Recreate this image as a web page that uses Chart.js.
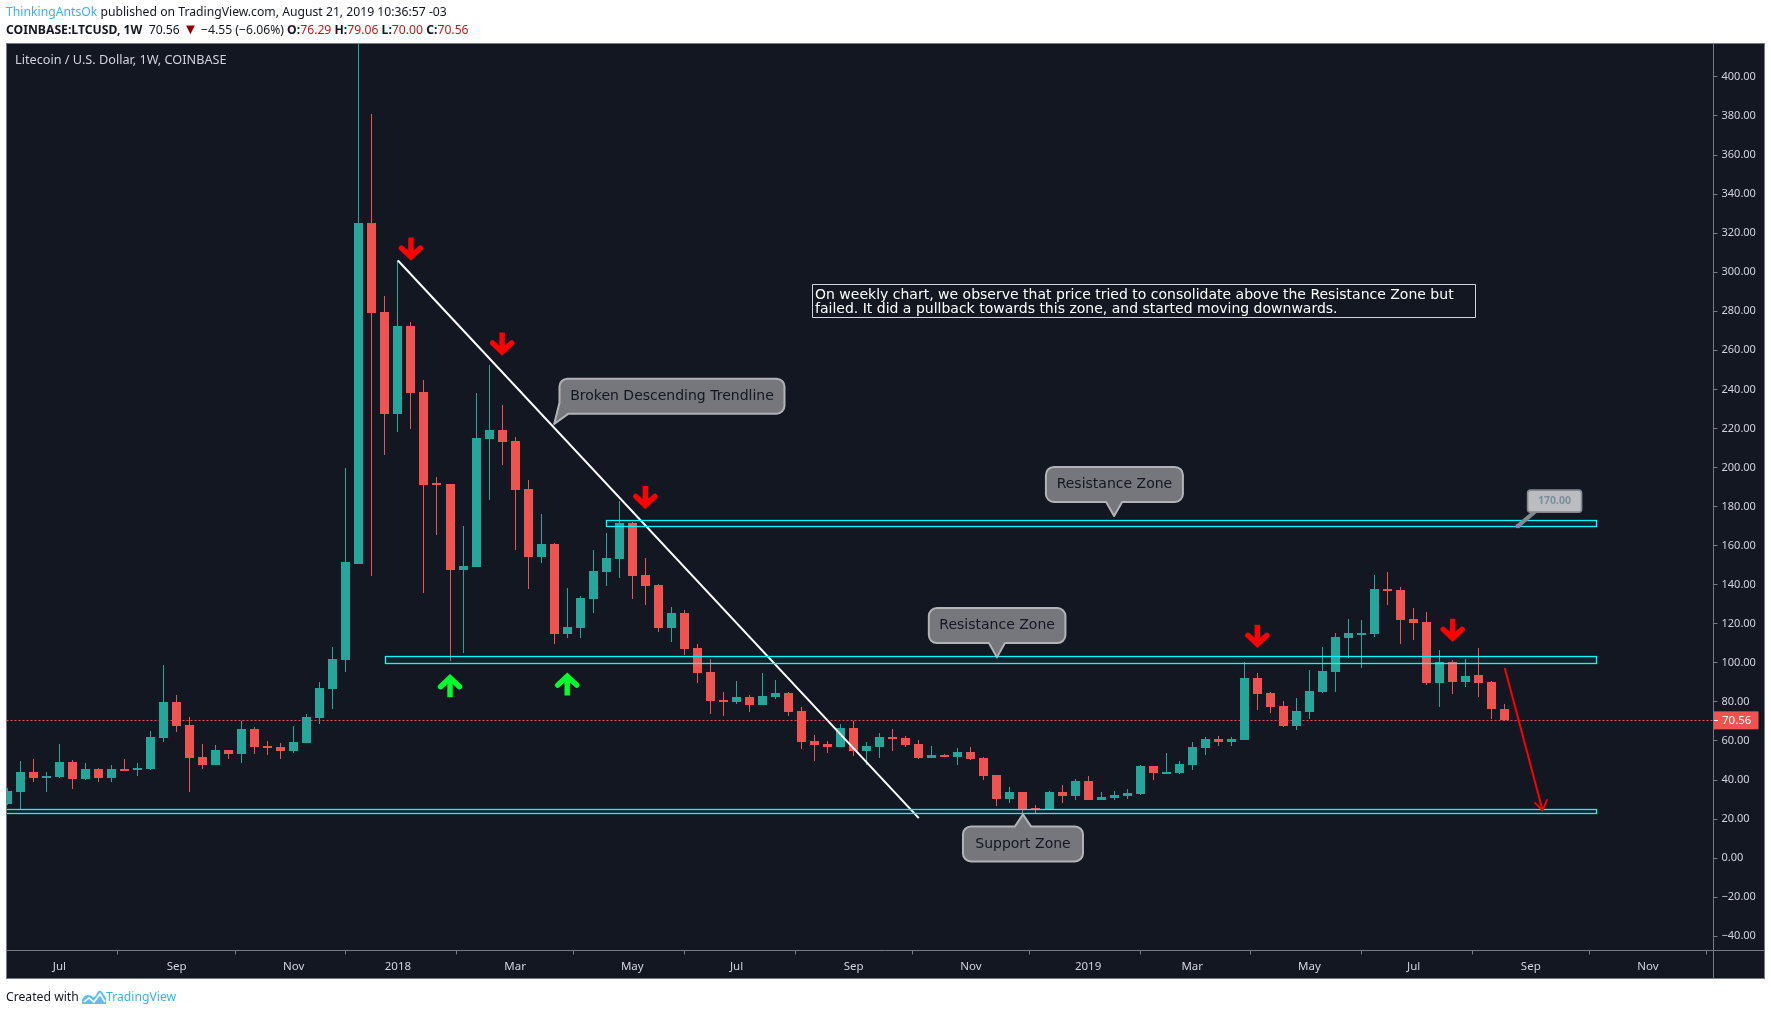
<!DOCTYPE html>
<html><head><meta charset="utf-8">
<script src="https://cdn.jsdelivr.net/npm/chart.js@4/dist/chart.umd.min.js"></script>
<style>
html,body{margin:0;padding:0;background:#fff;width:1771px;height:1015px;overflow:hidden}
canvas{position:absolute;left:0;top:0}
.t{position:absolute;left:6px;font-family:"Noto Sans",sans-serif;font-size:12.2px;white-space:pre;color:#131722;line-height:16px}
.b{font-weight:700}.r{color:#b71c1c}.l{color:#3bb3e4}
</style></head><body>
<canvas id="c" width="1771" height="1015"></canvas>
<div class="t" style="top:4px"><span class="l">ThinkingAntsOk</span> published on TradingView.com, August 21, 2019 10:36:57 -03</div>
<div class="t" style="top:21px"><span class="b">COINBASE:LTCUSD, 1W</span>  70.56 <span class="r" style="color:#8b0000;font-size:15px;line-height:14px">▼</span> −4.55 (−6.06%) <span class="b">O:</span><span class="r">76.29</span> <span class="b">H:</span><span class="r">79.06</span> <span class="b">L:</span><span class="r">70.00</span> <span class="b">C:</span><span class="r">70.56</span></div>
<div class="t" style="top:989px">Created with</div>
<svg style="position:absolute;left:82px;top:989px" width="24" height="16" viewBox="0 0 24 16"><path d="M0 15 L0 11 Q2 6 6 6 Q9 6 11 8 Q13 9 15 4 Q17 0 20 3 L24 9 L24 15 Z" fill="#5fc0ec"/><path d="M2 13 L7 9 L12 13 L18 5 L23 13" fill="none" stroke="#fff" stroke-width="1.6"/></svg>
<div class="t l" style="top:989px;left:106px">TradingView</div>
<script>
const open=[27.5,33.7,43.9,40.8,41.4,49,40.3,45.5,40.8,45.5,
45,45.5,61.4,79.8,68,51.6,47.5,55.2,53.1,66,
57.3,56.7,54.7,58.8,71.6,86.5,101.4,150.6,325.4,279.8,
227.6,272.6,238.8,192.2,191.7,147.5,149.1,214.7,219.3,213.7,
189.1,154.2,160.9,114.7,117.8,132.7,146.5,153.2,171.6,145,
139.8,117.8,125.5,107.5,95.2,80.9,79.8,82.4,78.3,82.4,
84.5,75.2,59.8,58.3,56.8,66.5,54.7,56.8,61.9,61.4,
58.3,51.1,52.6,51.6,54.2,51.1,42.4,30.1,33.7,25.5,
25,33.7,31.7,39.3,29.6,30.6,31.7,32.7,47,43.4,
43.4,47.5,56.2,60.9,59.3,60.3,92.2,84.5,77.8,67.5,
74.7,85,95.2,112.7,114.7,114.7,137.8,137.3,122.4,120.9,
89.6,100.4,90.1,93.7,90.1,76.29];
const close=[34.2,43.9,40.8,41.9,49,40.3,45.5,40.8,45.5,45,
46,61.9,79.8,67.5,51.1,47.5,55.2,53.1,66,56.7,
56.2,54.7,59.3,72.1,87,101.9,151.6,325.4,279.3,227.6,
272.6,238.3,191.1,191.1,147.5,149.6,215.2,219.3,213.2,188.6,
154.2,160.9,114.7,118.3,133.2,147,153.7,171.6,144.4,139.3,
117.8,125.5,107,94.7,80.4,79.8,82.4,78.3,82.9,84.5,
74.7,59.3,57.8,56.8,66.5,54.7,57.3,61.9,60.9,57.8,
51.1,52.6,51.6,54.2,50.6,41.9,30.1,33.7,25,25,
33.7,31.7,39.3,29.6,31.1,32.2,33.2,47,43.4,44,
48,56.8,60.9,59.3,60.9,92.2,83.9,77.3,67.5,75.2,
85.5,95.7,113.2,115.2,115.2,137.8,136.8,121.9,120.4,89.6,
100.4,90.1,93.2,89.6,76.2,70.56];
const high=[35.7,49.6,50.6,43.9,58.3,50.1,48.5,46,47.5,50.6,
48.5,64.9,98.8,83.4,72.1,58.3,57.8,55.2,70.1,67,
59.8,58.8,67.5,73.7,90.1,108,199.9,425,380.8,288,
306,274.7,245,195.2,191.7,170.1,238.3,252.7,232.2,215.8,
193.7,176.3,161.4,138.3,134.2,157.8,166.5,182.9,172.1,153.7,
140.4,128.6,127,109.6,101.9,85,90.6,83.4,94.7,91.1,
85,77.3,62.9,59.8,68.6,70.1,59.3,63.9,66,62.4,
60.4,57.3,53.2,56.2,56.8,51.6,42.4,36.3,33.7,27,
34.2,37.3,40.4,41.9,33.7,34.2,35.2,47.5,47,53.7,
49.6,59.3,61.9,62.4,61.9,100.4,94.7,85,80.4,81.9,
96.2,108,115.2,122.4,121.9,145,146.5,138.8,128,126,
106.5,101.4,101.9,107.5,90.6,79.06];
const low=[27,25.3,38.8,33.7,40.8,35.2,39.8,38.8,38.8,44.4,
41.9,45,59.3,64.4,33.7,45.5,47.5,50.6,48.5,53.1,
52.6,50.6,53.7,58.8,68.5,76.2,95.2,150.6,144.5,206.5,
218.3,219.9,135.8,165.5,100.9,105,149.1,183.4,201.4,157.8,
137.8,151.1,109.6,112.7,112.7,125.5,139.3,143.4,132.7,129.6,
115.7,110.6,103.9,89.6,73.7,72.7,78.8,74.7,78.3,81.4,
72.7,55.7,49.6,53.7,56.8,52.1,47.5,51.1,54.7,56.8,
50.6,51.1,51.6,47.5,50.1,39.9,26.5,28,22.4,22.4,
25,28,29.6,29.6,29.6,29.6,30.1,32.2,39.9,42.9,
42.9,45,52.7,57.3,57.3,60.3,75.7,74.2,67,65.5,
71.1,84.5,85,102.4,97.3,113.2,129.6,109.6,111.6,88.6,
77.3,83.9,87.5,82.4,71,70];
const tickWeeks=[4,13,22,30,39,48,56,65,74,83,91,100,108,117,126];
const tickLabels=["Jul","Sep","Nov","2018","Mar","May","Jul","Sep","Nov","2019","Mar","May","Jul","Sep","Nov"];
const priceTicks=[-40,-20,0,20,40,60,80,100,120,140,160,180,200,220,240,260,280,300,320,340,360,380,400];
const lastPrice=70.56;
const trendWeeks=[30,70], trendPrices=[306,20.5];
const forecastWeeks=[115,117.9], forecastPrices=[97.4,24.5];
const zoneStart=[46,29,-1], zoneEnd=[122,122,122], zoneTop=[173,103.3,25.3], zoneBottom=[170.2,100,23.1];
const downWeeks=[31,38,49,96,111], downPrices=[306,257.4,178.8,107.7,110.8];
const upWeeks=[34,43], upPrices=[94.2,95];
const noteLines=["On weekly chart, we observe that price tried to consolidate above the Resistance Zone but","failed. It did a pullback towards this zone, and started moving downwards."];

const UP='#26a69a',DOWN='#ef5350',BG='#131722',LINE='#787b86',TXT='#d1d4dc';
const weeks=open.map((_,i)=>i);
const col=c=>close[c.dataIndex]>=open[c.dataIndex]?UP:DOWN;

function roundRectPath(ctx,x0,y0,x1,y1,r,side,tip,a,b){
  ctx.beginPath();ctx.moveTo(x0+r,y0);
  if(side==='top'){ctx.lineTo(a,y0);ctx.lineTo(tip[0],tip[1]);ctx.lineTo(b,y0);}
  ctx.arcTo(x1,y0,x1,y1,r);ctx.arcTo(x1,y1,x0,y1,r);
  if(side==='bottom'){ctx.lineTo(b,y1);ctx.lineTo(tip[0],tip[1]);ctx.lineTo(a,y1);}
  if(side==='corner'){ctx.lineTo(b,y1);ctx.lineTo(tip[0],tip[1]);ctx.lineTo(x0,a);}
  else ctx.arcTo(x0,y1,x0,y0,r);
  ctx.arcTo(x0,y0,x1,y0,r);ctx.closePath();
}
function bubble(ctx,sx,sy,week,price,dx0,dx1,dy0,dy1,side,text){
  const tx=sx.getPixelForValue(week),ty=sy.getPixelForValue(price);
  const x0=tx+dx0,x1=tx+dx1,y0=ty+dy0,y1=ty+dy1;
  let a=tx-8,b=tx+8;
  if(side==='corner'){a=y1-11;b=x0+9;}
  roundRectPath(ctx,x0,y0,x1,y1,8,side,[tx,ty],a,b);
  ctx.fillStyle='#76777c';ctx.fill();
  ctx.strokeStyle='#b2b3b6';ctx.lineWidth=2;ctx.lineJoin='round';ctx.stroke();
  ctx.fillStyle='#131722';ctx.font='14px "DejaVu Sans"';ctx.textAlign='center';ctx.textBaseline='middle';
  ctx.fillText(text,(x0+x1)/2,(y0+y1)/2);
}
function fatArrow(ctx,x,y,dir,color){
  ctx.strokeStyle=color;ctx.lineWidth=5.4;ctx.lineCap='butt';ctx.lineJoin='miter';
  ctx.beginPath();ctx.moveTo(x,y-dir*3);ctx.lineTo(x,y-dir*23);ctx.stroke();
  ctx.lineCap='round';
  ctx.beginPath();ctx.moveTo(x-9.5,y-dir*12.5);ctx.lineTo(x,y-dir*3.5);ctx.lineTo(x+9.5,y-dir*12.5);ctx.stroke();
}
const decor={id:'decor',
 beforeDraw(ch){const c=ch.ctx,a=ch.chartArea;
  c.save();c.fillStyle=BG;c.fillRect(6.5,43.5,1758,935);c.restore();},
 beforeDatasetsDraw(ch){
  ch.data.datasets.forEach((d,k)=>{ if(d.type!=='bar')return;
   ch.getDatasetMeta(k).data.forEach(el=>{
    el.x=Math.floor(el.x)+.5;
    let t=Math.round(Math.min(el.y,el.base)),b=Math.round(Math.max(el.y,el.base));
    if(b-t<1)b=t+1; if(el.width>2&&b-t<2)b=t+2; el.y=t;el.base=b;});});
  const c=ch.ctx,a=ch.chartArea,sy=ch.scales.y,y=Math.round(sy.getPixelForValue(lastPrice))+.5;
  c.save();c.strokeStyle=DOWN;c.lineWidth=1;c.setLineDash([2,2]);
  c.beginPath();c.moveTo(a.left,y);c.lineTo(a.right,y);c.stroke();c.restore();
 },
 afterDatasetsDraw(ch){
  const c=ch.ctx,a=ch.chartArea,sx=ch.scales.x,sy=ch.scales.y;
  c.save();c.beginPath();c.rect(a.left,a.top,a.width,a.height);c.clip();
  zoneTop.forEach((_,i)=>{
   const x0=Math.round(sx.getPixelForValue(zoneStart[i]))+.5,x1=Math.round(sx.getPixelForValue(zoneEnd[i]))+.5,
    y0=Math.round(sy.getPixelForValue(zoneTop[i]))+.5,y1=Math.round(sy.getPixelForValue(zoneBottom[i]))+.5;
   c.fillStyle='rgba(0,255,255,0.05)';c.fillRect(x0,y0,x1-x0,y1-y0);
   c.strokeStyle='#00ffff';c.lineWidth=1.3;c.strokeRect(x0,y0,x1-x0,y1-y0);
  });
  const tx=sx.getPixelForValue(forecastWeeks[1]),ty=sy.getPixelForValue(forecastPrices[1]);
  c.strokeStyle='#ff0000';c.lineWidth=1.8;c.lineCap='round';
  c.beginPath();c.moveTo(tx-7.5,ty-7.5);c.lineTo(tx,ty);c.lineTo(tx+4.5,ty-10.5);c.stroke();
  downWeeks.forEach((w,i)=>fatArrow(c,sx.getPixelForValue(w),sy.getPixelForValue(downPrices[i]),1,'#ff0000'));
  upWeeks.forEach((w,i)=>fatArrow(c,sx.getPixelForValue(w),sy.getPixelForValue(upPrices[i]),-1,'#00ff2a'));
  c.restore();
  c.save();
  bubble(c,sx,sy,42,222.3,5.3,230.3,-45.3,-10.3,'corner','Broken Descending Trendline');
  bubble(c,sx,sy,85,175.2,-68.2,68.8,-49,-14,'bottom','Resistance Zone');
  bubble(c,sx,sy,76,102.8,-68.1,68.5,-49.3,-14.3,'bottom','Resistance Zone');
  bubble(c,sx,sy,78,22.4,-60,60,12,47,'top','Support Zone');
  const px=sx.getPixelForValue(116),py=sy.getPixelForValue(170);
  c.strokeStyle='#868890';c.lineWidth=4;c.lineCap='butt';c.beginPath();c.moveTo(px,py);c.lineTo(px+19,py-16);c.stroke();
  c.fillStyle='#868890';c.fillRect(px-2,py-2,4,4);
  c.beginPath();c.roundRect(px+9.8,py-36,54,22,3);c.fillStyle='#bcbdc1';c.fill();c.strokeStyle='#868890';c.lineWidth=1.6;c.stroke();
  c.fillStyle='#78909c';c.font='bold 10.5px "Noto Sans"';c.textAlign='center';c.textBaseline='middle';c.fillText('170.00',px+36.8,py-25);
  const nx=812.5,ny=284.5;
  c.fillStyle=BG;c.fillRect(nx,ny,663,33);c.strokeStyle='#d1d4dc';c.lineWidth=1;c.strokeRect(nx,ny,663,33);
  c.fillStyle='#ffffff';c.font='14px "DejaVu Sans"';c.textAlign='left';c.textBaseline='middle';
  noteLines.forEach((t,i)=>c.fillText(t,nx+2.5,ny+10.5+i*14));
  c.fillStyle=TXT;c.font='12.7px "Noto Sans"';c.fillText('Litecoin / U.S. Dollar, 1W, COINBASE',15,60.5);
  c.restore();
 },
 afterDraw(ch){const c=ch.ctx,a=ch.chartArea,sy=ch.scales.y;
  c.save();
  c.strokeStyle=LINE;c.lineWidth=1;
  c.strokeRect(6.5,43.5,1758,935);
  c.beginPath();c.moveTo(6.5,950.5);c.lineTo(1764.5,950.5);c.moveTo(1713.5,43.5);c.lineTo(1713.5,978.5);c.stroke();
  const y=sy.getPixelForValue(lastPrice);
  c.fillStyle=DOWN;c.fillRect(1714,y-9,44.5,18);
  c.fillStyle='#fff';c.fillRect(1714,Math.round(y),4,1);
  c.font='11.5px "Noto Sans"';c.textAlign='left';c.textBaseline='middle';c.fillText('70.56',1722,y+.5);
  c.restore();
 }
};
new Chart(document.getElementById('c'),{
 data:{datasets:[
  {type:'line',label:'Trendline',data:trendWeeks.map((w,i)=>({x:w,y:trendPrices[i]})),borderColor:'#ffffff',borderWidth:2,pointRadius:0,order:-2},
  {type:'line',label:'Forecast',data:forecastWeeks.map((w,i)=>({x:w,y:forecastPrices[i]})),borderColor:'#ff0000',borderWidth:2,pointRadius:0,order:-2},
  {type:'bar',label:'High-Low',data:weeks.map(i=>({x:i,y:[low[i],high[i]]})),backgroundColor:col,barThickness:1,grouped:false,inflateAmount:0,order:2},
  {type:'bar',label:'Open-Close',data:weeks.map(i=>({x:i,y:[open[i],close[i]]})),backgroundColor:col,barThickness:9,grouped:false,inflateAmount:0,order:1}
 ]},
 options:{responsive:false,animation:false,events:[],
  devicePixelRatio:1,
  layout:{padding:{left:6.5,top:43.5,right:6.5,bottom:36.5}},
  plugins:{legend:{display:false},tooltip:{enabled:false},title:{display:false}},
  scales:{
   x:{type:'linear',min:-0.06,max:131.03,offset:false,
    afterBuildTicks:s=>{s.ticks=tickWeeks.map(v=>({value:v}));},
    afterFit:s=>{s.height=28;},
    grid:{drawOnChartArea:false,tickLength:4,tickColor:LINE,drawTicks:true},border:{display:false},
    ticks:{autoSkip:false,maxRotation:0,includeBounds:false,color:TXT,padding:5,font:{family:'"Noto Sans"',size:11.5},
     callback:v=>{const k=tickWeeks.indexOf(v);return k<0?'':tickLabels[k];}}},
   y:{type:'linear',position:'right',min:-47.27,max:417.1,
    afterBuildTicks:s=>{s.ticks=priceTicks.map(v=>({value:v}));},
    afterFit:s=>{s.width=51;},
    grid:{drawOnChartArea:false,tickLength:4,tickColor:LINE},border:{display:false},
    ticks:{autoSkip:false,includeBounds:false,color:TXT,padding:4,font:{family:'"Noto Sans"',size:11},
     callback:v=>(v<0?'−':'')+Math.abs(v).toFixed(2)}}
  }
 },
 plugins:[decor]
});
</script>
</body></html>
